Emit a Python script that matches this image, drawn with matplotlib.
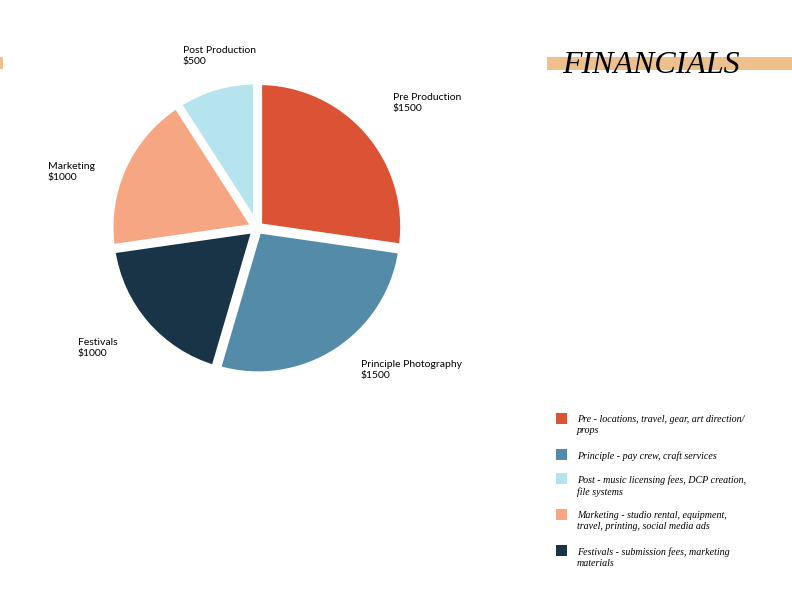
import matplotlib
matplotlib.use('Agg')
import matplotlib.pyplot as plt
from matplotlib.patches import Rectangle

# slice data, clockwise from the top
slices = ['Pre Production', 'Principle Photography', 'Festivals', 'Marketing', 'Post Production']
amounts = [1500, 1500, 1000, 1000, 500]
slice_colors = ['#DB5234', '#538BA8', '#193447', '#F7A684', '#B5E3EE']

# legend entries
legend_names = ['Pre', 'Principle', 'Post', 'Marketing', 'Festivals']
legend_text = ['Pre - locations, travel, gear, art direction/\nprops',
               'Principle - pay crew, craft services',
               'Post - music licensing fees, DCP creation,\nfile systems',
               'Marketing - studio rental, equipment,\ntravel, printing, social media ads',
               'Festivals - submission fees, marketing\nmaterials']

W, H = 792, 612
fig = plt.figure(figsize=(W / 100, H / 100), dpi=100)
fig.patch.set_facecolor('white')

# pie axes, sized so radius 1 == R px
cx, cy, R = 257, 228, 145
ax = fig.add_axes([(cx - R) / W, 1 - (cy + R) / H, 2 * R / W, 2 * R / H])
wedges, _ = ax.pie(amounts, colors=slice_colors, startangle=90, counterclock=False,
                   explode=[0.015] * len(amounts),
                   wedgeprops=dict(edgecolor='white', linewidth=5))
ax.set_xlim(-1, 1)
ax.set_ylim(-1, 1)
ax.axis('off')

# label anchors in pixels (left edge, middle of the two lines)
label_px = {'Pre Production': (393, 103),
            'Principle Photography': (361, 370),
            'Festivals': (78, 348),
            'Marketing': (48, 172),
            'Post Production': (183, 56)}
for name, amt in zip(slices, amounts):
    px, py = label_px[name]
    fig.text(px / W, 1 - py / H, '%s\n$%d' % (name, amt), ha='left', va='center', fontsize=7.5,
             family='Lato', linespacing=1.35)

# title band
fig.patches.append(Rectangle((547 / W, 1 - 70 / H), 245 / W, 13 / H, transform=fig.transFigure,
                             facecolor='#EEC08C', edgecolor='none'))
fig.patches.append(Rectangle((0, 1 - 69 / H), 3 / W, 12 / H, transform=fig.transFigure,
                             facecolor='#EEC08C', edgecolor='none'))
fig.text(650.5 / W, 1 - 73 / H, 'FINANCIALS', ha='center', va='baseline', fontsize=23,
         family='Liberation Serif', style='italic')

# manual legend
lut = dict(zip(['Pre', 'Principle', 'Festivals', 'Marketing', 'Post'], slice_colors))
ytop = 413
for name, txt in zip(legend_names, legend_text):
    fig.patches.append(Rectangle((556 / W, 1 - (ytop + 11) / H), 11 / W, 11 / H,
                                 transform=fig.transFigure, facecolor=lut[name], edgecolor='none'))
    fig.text(577 / W, 1 - (ytop + 2) / H, txt, ha='left', va='top', fontsize=7.2,
             family='Liberation Serif', style='italic', linespacing=1.3)
    ytop += 12 * (txt.count('\n') + 1) + 12

fig.savefig('out.png', dpi=100)
